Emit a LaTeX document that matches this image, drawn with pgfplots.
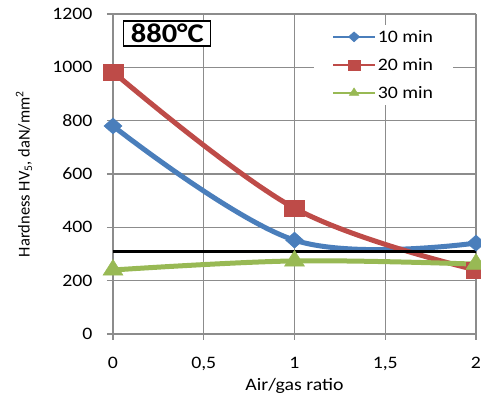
\documentclass[border=0pt]{standalone}
\usepackage{fontspec}
\setmainfont{Carlito}
\newfontfamily\wide{Carlito}[FakeStretch=1.13]
\usepackage{pgfplots}
\pgfplotsset{compat=1.18}
\definecolor{sblue}{HTML}{4A7EBB}
\definecolor{sred}{HTML}{BE4B48}
\definecolor{sgreen}{HTML}{98B954}
\definecolor{gridc}{HTML}{8C8C8C}
\begin{document}
\begin{tikzpicture}
\begin{axis}[
  scale only axis,
  width=363pt, height=320pt,
  xmin=0, xmax=2, ymin=0, ymax=1200,
  xtick={0,0.5,1,1.5,2},
  ytick={0,200,400,600,800,1000,1200},
  /pgf/number format/use comma,
  /pgf/number format/assume math mode=true,
  /pgf/number format/1000 sep={},
  grid=major,
  grid style={gridc, line width=1.2pt},
  axis line style={gridc, line width=1.2pt},
  tick style={gridc, line width=1.2pt},
  tick align=outside,
  major tick length=6pt,
  axis x line*=bottom, axis y line*=left,
  ticklabel style={font=\wide\fontsize{17.5}{20}\selectfont},
  xticklabel style={yshift=-17pt, inner ysep=0pt},
  yticklabel style={xshift=-11pt},
  xlabel={Air/gas ratio},
  ylabel={Hardness HV\textsubscript{5}, daN/mm\textsuperscript{2}},
  xlabel style={font=\wide\fontsize{17.5}{20}\selectfont, at={(rel axis cs:0.5,-0.176)}, anchor=base, inner ysep=0pt},
  ylabel style={font=\fontsize{16.5}{18}\selectfont, at={(rel axis cs:-0.245,0.5)}, anchor=center},
  clip=false,
  legend style={draw=none, fill=white, at={(rel axis cs:0.554,0.966)}, anchor=north west,
    font=\wide\fontsize{17.5}{20}\selectfont, row sep=10.5pt, inner xsep=18pt, inner ysep=3pt,
    /tikz/every even column/.append style={column sep=0pt},
    nodes={inner xsep=2pt}},
  legend cell align=left,
  legend image code/.code={
    \draw[#1, line width=1.5pt, mark size=5pt, mark indices={2}] plot coordinates {(0pt,0pt) (21pt,0pt) (42pt,0pt)};
  },
]
\addplot[sblue, line width=5pt, smooth, tension=0.6, mark=diamond*, mark size=8pt,
  mark options={solid, line width=0.5pt, fill=sblue, xscale=1.5}]
  coordinates {(0,780) (1,352) (2,341)};
\addlegendentry{10 min}
\addplot[sred, line width=5pt, smooth, tension=0.6, mark=square*, mark size=8pt,
  mark options={solid, line width=0.5pt, fill=sred, xscale=1.25}]
  coordinates {(0,983) (1,472) (2,240)};
\addlegendentry{20 min}
\addplot[sgreen, line width=5pt, smooth, tension=0.6, mark=triangle*, mark size=10.5pt,
  mark options={solid, line width=0.5pt, fill=sgreen, xscale=1.1}]
  coordinates {(0,240) (1,274) (2,262)};
\addlegendentry{30 min}
\addplot[black, line width=3pt, forget plot] coordinates {(0,311) (2,311)};
\node[draw=black, line width=1.3pt, fill=white, anchor=north west, inner xsep=7pt, inner ysep=3pt,
  font=\wide\fontsize{27}{29}\selectfont\bfseries] at (rel axis cs:0.028,0.98) {880°C};
\end{axis}
\pgfresetboundingbox
\path ([xshift=-113pt,yshift=-74pt]current axis.south west) rectangle ([xshift=5pt,yshift=14pt]current axis.north east);
\end{tikzpicture}
\end{document}
